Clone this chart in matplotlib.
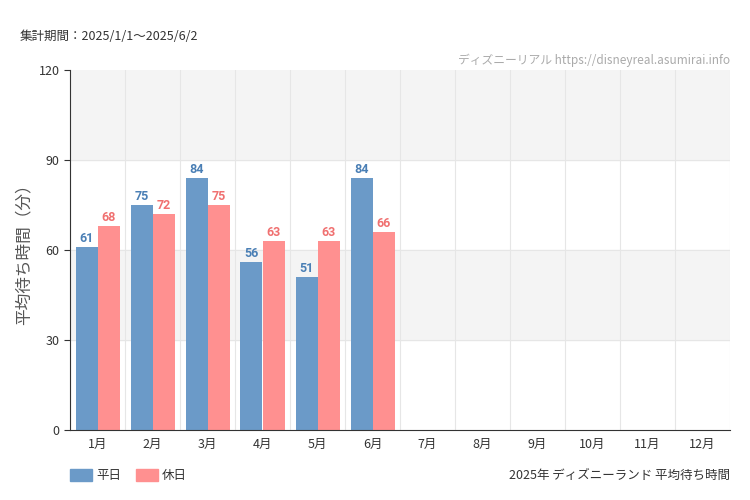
import matplotlib.pyplot as plt
import numpy as np

plt.rcParams["font.family"] = "Noto Sans CJK JP"

months = ["1月", "2月", "3月", "4月", "5月", "6月", "7月", "8月", "9月", "10月", "11月", "12月"]
weekday = [61, 75, 84, 56, 51, 84]
holiday = [68, 72, 75, 63, 63, 66]

fig = plt.figure(figsize=(7.5, 5), dpi=100)
ax = fig.add_axes([70/750, 70/500, 660/750, 360/500])

x = np.arange(len(months))
w = 0.4
ax.axhspan(90, 120, color="#f4f4f4", zorder=0)
ax.axhspan(30, 60, color="#f4f4f4", zorder=0)
for yy in [30, 60, 90]:
    ax.axhline(yy, color="#e6e6e6", lw=0.8, zorder=0.5)
for xx in np.arange(len(months) + 1) - 0.5:
    ax.axvline(xx, color="#e6e6e6", lw=0.8, zorder=0.5)

i = np.arange(len(weekday))
ax.bar(i - w/2, weekday, w, color="#6b9ac8", zorder=2)
ax.bar(i + w/2, holiday, w, color="#ff9090", zorder=2)
for k in i:
    ax.text(k - w/2, weekday[k] + 0.8, str(weekday[k]), ha="center", va="bottom",
            color="#4a7fb5", fontsize=9, fontfamily="Roboto", fontweight="bold", fontstretch="condensed")
    ax.text(k + w/2, holiday[k] + 0.8, str(holiday[k]), ha="center", va="bottom",
            color="#f07070", fontsize=9, fontfamily="Roboto", fontweight="bold", fontstretch="condensed")

ax.set_xlim(-0.5, 11.5)
ax.set_ylim(0, 120)
ax.set_yticks([0, 30, 60, 90, 120])
ax.set_xticks(x)
ax.set_xticklabels(months)
ax.tick_params(labelsize=9, colors="#333333", length=4)
ax.tick_params(axis="x", length=0, pad=6)
for s in ["top", "right"]:
    ax.spines[s].set_visible(False)
ax.spines["left"].set_color("#333333")
ax.spines["bottom"].set_color("#333333")
ax.set_ylabel("平均待ち時間（分）", fontsize=12, color="#555555")

fig.text(20/750, 1 - 37/500, "集計期間：2025/1/1～2025/6/2", fontsize=9, color="#333333", va="center")
fig.text(730/750, 1 - 60/500, "ディズニーリアル https://disneyreal.asumirai.info", fontsize=8.5,
         color="#aaaaaa", ha="right", va="center")
fig.text(730/750, 1 - 475/500, "2025年 ディズニーランド 平均待ち時間", fontsize=9, color="#333333",
         ha="right", va="center")
fig.patches.append(plt.Rectangle((70/750, 1 - 481/500), 22/750, 12/500, color="#6b9ac8", transform=fig.transFigure))
fig.text(96/750, 1 - 475/500, "平日", fontsize=9, color="#333333", va="center")
fig.patches.append(plt.Rectangle((136/750, 1 - 481/500), 22/750, 12/500, color="#ff9090", transform=fig.transFigure))
fig.text(162/750, 1 - 475/500, "休日", fontsize=9, color="#333333", va="center")

fig.savefig("out.png")
